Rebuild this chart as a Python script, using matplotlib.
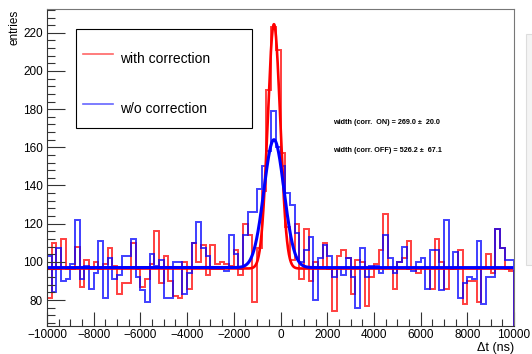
import numpy as np
import matplotlib
matplotlib.use("Agg")
import matplotlib.pyplot as plt
from matplotlib.ticker import MultipleLocator
from matplotlib.patches import Rectangle

plt.rcParams["font.family"] = ["Liberation Sans", "DejaVu Sans"]

# histogram binning: 100 bins of 200 ns from -10000 to 10000
BIN_LO = -10000
BIN_W = 200

counts_corr = [
    81, 110, 96, 112, 96, 96, 108, 87, 101, 96,
    100, 96, 99, 107, 98, 83, 89, 89, 110, 96,
    87, 91, 99, 116, 89, 103, 90, 82, 81, 100,
    86, 110, 100, 109, 93, 109, 99, 100, 99, 98,
    106, 93, 120, 114, 79, 107, 137, 190, 223, 211,
    157, 118, 101, 120, 91, 117, 90, 100, 97, 110,
    96, 74, 103, 106, 102, 83, 101, 100, 77, 92,
    99, 106, 125, 97, 86, 100, 102, 111, 97, 94,
    97, 97, 86, 112, 100, 86, 96, 96, 106, 78,
    90, 90, 79, 97, 104, 94, 117, 107, 96, 95,
]

counts_nocorr = [
    103, 84, 107, 90, 91, 99, 122, 91, 98, 86,
    94, 111, 81, 102, 91, 93, 103, 103, 112, 92,
    85, 79, 104, 98, 101, 81, 81, 100, 100, 83,
    94, 110, 121, 107, 103, 96, 96, 96, 95, 114,
    104, 96, 114, 126, 126, 138, 150, 158, 179, 160,
    150, 136, 130, 115, 100, 106, 113, 80, 102, 109,
    103, 92, 97, 93, 102, 92, 76, 107, 92, 98,
    98, 94, 114, 102, 94, 100, 108, 96, 95, 100,
    102, 86, 106, 106, 85, 122, 96, 105, 81, 89,
    92, 91, 111, 78, 92, 92, 117, 107, 101, 101,
]

# fit: constant + gaussian (const, amplitude, mean, sigma)
fit_corr = [96.5, 128.0, -280.0, 269.0]
fit_nocorr = [97.0, 67.0, -280.0, 430.0]
fit_range = [-9900, 9900]

labels = ["with correction", "w/o correction"]
width_texts = ["width (corr.  ON) = 269.0 \u00b1  20.0",
               "width (corr. OFF) = 526.2 \u00b1  67.1"]


def fit_curve(p, x):
    return p[0] + p[1] * np.exp(-0.5 * ((x - p[2]) / p[3]) ** 2)


edges = BIN_LO + BIN_W * np.arange(len(counts_corr) + 1)
xs = np.linspace(fit_range[0], fit_range[1], 2000)

fig = plt.figure(figsize=(5.32, 3.54), dpi=100)
ax = fig.add_axes([47 / 532, 1 - 326 / 354, (514 - 47) / 532, (326 - 9.3) / 354])

ax.stairs(counts_corr, edges, color="#ff0000", lw=1.4, alpha=0.75)
ax.stairs(counts_nocorr, edges, color="#0000ff", lw=1.4, alpha=0.75)
ax.plot(xs, fit_curve(fit_corr, xs), color="#ff0000", lw=1.9)
ax.plot(xs, fit_curve(fit_nocorr, xs), color="#0000ff", lw=2.2)

ax.set_xlim(-10000, 10000)
ax.set_ylim(66.4, 232.3)

ax.xaxis.set_major_locator(MultipleLocator(2000))
ax.xaxis.set_minor_locator(MultipleLocator(500))
ax.yaxis.set_major_locator(MultipleLocator(20))
ax.yaxis.set_minor_locator(MultipleLocator(4))
ax.tick_params(axis="both", which="both", direction="in", top=False, right=False,
               labelsize=8.5, color="#333333", width=0.8)
ax.tick_params(axis="x", which="major", length=10, pad=2)
ax.tick_params(axis="x", which="minor", length=5)
ax.tick_params(axis="y", which="major", length=13, pad=3)
ax.tick_params(axis="y", which="minor", length=6)
for s in ["top", "right"]:
    ax.spines[s].set_color("#777777")
for s in ["left", "bottom"]:
    ax.spines[s].set_color("#333333")

fig.text(14 / 532, 1 - 10 / 354, "entries", rotation=90, ha="center", va="top", fontsize=8.5)
fig.text(514 / 532, 1 - 347.5 / 354, "\u0394t (ns)", ha="right", va="center", fontsize=9)

# legend box drawn in ROOT style
lx0, lx1, ly0, ly1 = 76 / 532, 252 / 532, 1 - 128 / 354, 1 - 29 / 354
fig.patches.append(Rectangle((lx0, ly0), lx1 - lx0, ly1 - ly0, transform=fig.transFigure,
                             facecolor="white", edgecolor="black", lw=0.8, zorder=5))
leg_colors = ["#ff6666", "#6666ff"]
for lab, col, yy in zip(labels, leg_colors, [54, 104]):
    fig.lines.append(plt.Line2D([83 / 532, 113 / 532], [1 - yy / 354, 1 - yy / 354],
                                transform=fig.transFigure, color=col, lw=1.2, zorder=6))
    fig.text(120 / 532, 1 - (yy + 5) / 354, lab, ha="left", va="center", fontsize=10, zorder=7)

for txt, yy in zip(width_texts, [122, 151]):
    fig.text(333 / 532, 1 - yy / 354, txt, ha="left", va="center", fontsize=5.2,
             fontweight="bold")

# sliver of neighbouring pad at the right edge
fig.patches.append(Rectangle((526 / 532, 1 - 265 / 354), 10 / 532, (265 - 34) / 354,
                             transform=fig.transFigure, facecolor="#f4f4f4",
                             edgecolor="#dddddd", lw=0.8, zorder=0))

fig.savefig("out.png", dpi=100)
